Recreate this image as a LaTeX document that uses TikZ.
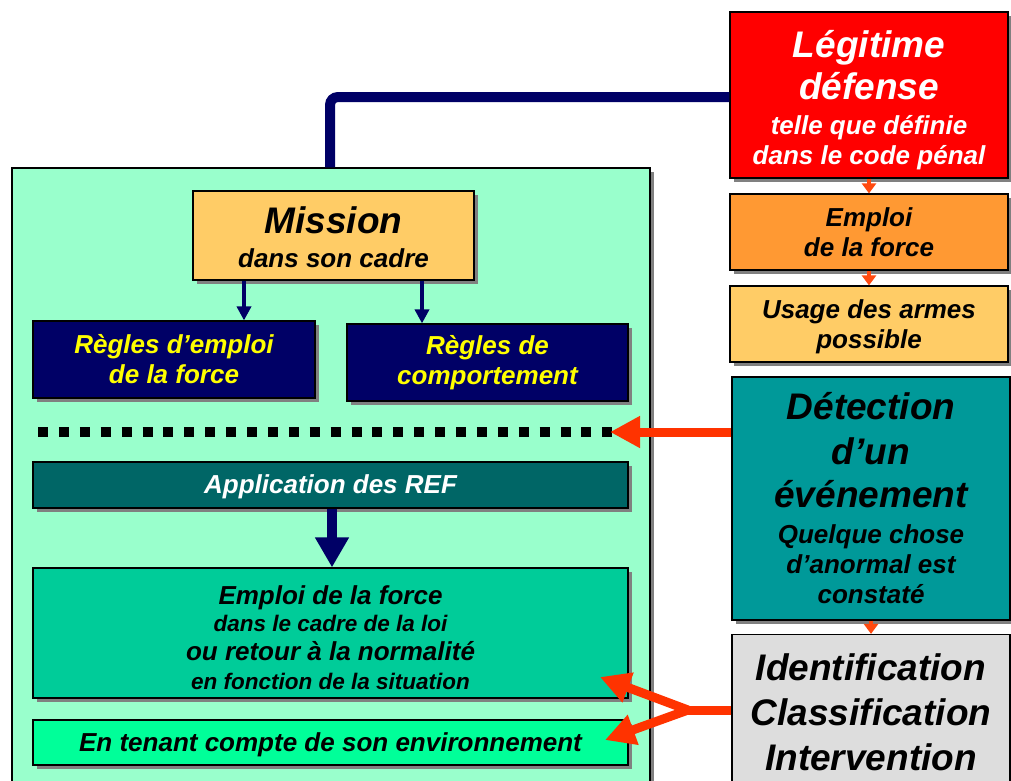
\documentclass[tikz,border=0pt]{standalone}
\usepackage{fontspec}
\setmainfont{Liberation Sans}
\usetikzlibrary{arrows.meta,shadows}
\definecolor{panelc}{HTML}{99FFCC}
\definecolor{navy}{HTML}{000066}
\definecolor{yel}{HTML}{FFFF00}
\definecolor{missc}{HTML}{FFCC66}
\definecolor{appc}{HTML}{006666}
\definecolor{empc}{HTML}{00CC99}
\definecolor{tenc}{HTML}{00FF99}
\definecolor{legc}{HTML}{FF0000}
\definecolor{orac}{HTML}{FF9933}
\definecolor{detc}{HTML}{009999}
\definecolor{idc}{HTML}{DDDDDD}
\definecolor{arrc}{HTML}{FF3300}
\definecolor{smarr}{HTML}{FF4A10}
\definecolor{shad}{HTML}{808080}
\lineskiplimit=-100pt
\newcommand{\bigtxt}[1]{{\fontsize{37}{30}\selectfont #1}}
\newcommand{\smtxt}[1]{{\fontsize{22.5}{30}\selectfont #1}}
\newcommand{\boxfont}{\bfseries\itshape\fontsize{26}{30}\selectfont}
\tikzset{
  box/.style={draw=black, line width=1.2pt, rectangle, inner sep=0pt, align=center,
    font=\boxfont,
    general shadow={fill=shad, shadow xshift=4pt, shadow yshift=-4pt}},
  navarrow/.style={draw=navy, line width=4pt, -{Triangle[width=14pt,length=14pt]}},
  bignav/.style={draw=navy, line width=10pt, -{Triangle[width=32pt,length=30pt]}},
  redarrow/.style={draw=arrc, line width=9pt, -{Triangle[width=30pt,length=30pt]}},
  smallarrow/.style={draw=smarr, line width=4pt, -{Triangle[width=14pt,length=10pt]}},
}
\begin{document}
\begin{tikzpicture}[x=1pt,y=-1pt]
\useasboundingbox (0,0) rectangle (1011,780);
% panel
\node[box, fill=panelc, minimum width=638pt, minimum height=622pt] (panel) at (331,479) {};
% right column
\node[box, fill=legc, text=white, minimum width=278pt, minimum height=166pt] (legit) at (869,95)
  {\rule{0pt}{38pt}\bigtxt{Légitime}\\[12pt]\bigtxt{défense}\\[5pt]telle que définie\\dans le code pénal};
\node[box, fill=orac, minimum width=278pt, minimum height=76pt] (emploiR) at (869,232)
  {Emploi\\de la force};
\node[box, fill=missc, minimum width=278pt, minimum height=76pt] (usage) at (869,324)
  {\rule{0pt}{24pt}Usage des armes\\possible};
\node[box, fill=detc, minimum width=278pt, minimum height=243pt] (detect) at (871,498.5)
  {\bigtxt{Détection}\\[15pt]\bigtxt{d’un}\\[13pt]\bigtxt{événement}\\[6pt]Quelque chose\\d’anormal est\\constaté};
\node[box, fill=idc, minimum width=278pt, minimum height=155pt] (ident) at (871,712)
  {\bigtxt{Identification}\\[15pt]\bigtxt{Classification}\\[15pt]\bigtxt{Intervention}};
% left panel content
\node[box, fill=missc, minimum width=281pt, minimum height=89pt] (mission) at (333.5,235.5)
  {\rule{0pt}{31pt}\bigtxt{Mission}\\[4pt]dans son cadre};
\node[box, fill=navy, text=yel, minimum width=282pt, minimum height=77pt] (regA) at (174,359.5)
  {Règles d’emploi\\de la force};
\node[box, fill=navy, text=yel, minimum width=281pt, minimum height=77pt] (regB) at (487.5,362.5)
  {Règles de\\comportement};
\node[box, fill=appc, text=white, minimum width=595pt, minimum height=46pt] (app) at (330.5,485)
  {\rule{0pt}{23pt}Application des REF};
\node[box, fill=empc, minimum width=595pt, minimum height=130pt] (emploiG) at (330.5,633)
  {\rule{0pt}{28pt}Emploi de la force\\[-3pt]\smtxt{dans le cadre de la loi}\\[-1pt]ou retour à la normalité\\[-1pt]\smtxt{en fonction de la situation}};
\node[box, fill=tenc, minimum width=595pt, minimum height=45pt] (tenant) at (330.5,742.5)
  {\rule{0pt}{23pt}En tenant compte de son environnement};
% dotted line
\coordinate (dotL) at (38,432);
\coordinate (dotR) at (612,432);
\draw[line width=10pt, dash pattern=on 10pt off 10.9pt] (dotL) -- (dotR);
% connectors
\coordinate (corner) at (330,97);
\draw[navy, line width=10pt, rounded corners=8pt] (legit.west |- corner) -- (corner) -- (corner |- panel.north);
\draw[navarrow] (mission.south -| 244,0) -- (regA.north -| 244,0);
\draw[navarrow] (mission.south -| 422,0) -- (regB.north -| 422,0);
\draw[bignav] (app.south -| 332,0) -- (emploiG.north -| 332,0);
\draw[smallarrow] (legit.south) -- (emploiR.north);
\draw[smallarrow] (emploiR.south) -- (usage.north);
\draw[smallarrow] (detect.south) -- (ident.north);
\draw[redarrow] (detect.west |- dotR) -- ([xshift=-2pt]dotR);
\coordinate (split) at (688,710);
\coordinate (tgtA) at (600,677);
\coordinate (tgtB) at (605,740);
\draw[arrc, line width=9pt] (ident.west |- split) -- (split);
\draw[redarrow] (split) -- (tgtA);
\draw[redarrow] (split) -- (tgtB);
\end{tikzpicture}
\end{document}
